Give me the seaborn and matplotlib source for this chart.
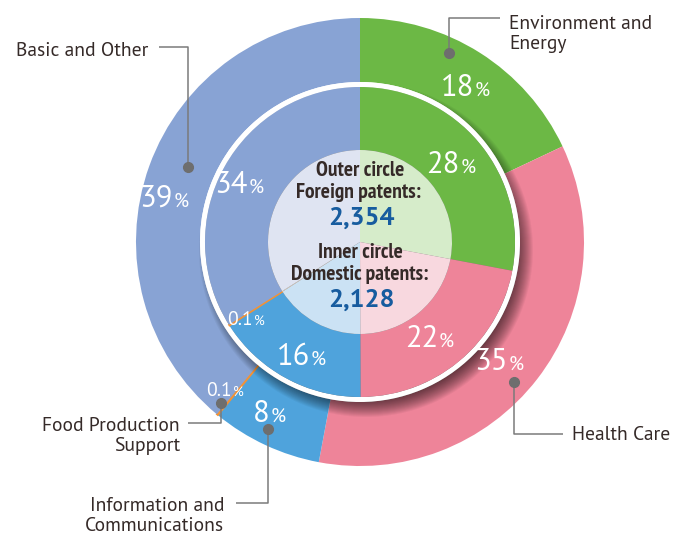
import seaborn as sns
import matplotlib.pyplot as plt
import matplotlib
import numpy as np
from matplotlib.patches import Circle, Wedge

matplotlib.use('Agg')

# Data
categories = ["Environment and Energy", "Health Care", "Information and Communications",
              "Food Production Support", "Basic and Other"]
outer_foreign = [18, 35, 8, 0.1, 39]
inner_domestic = [28, 22, 16, 0.1, 34]
outer_labels = ["18", "35", "8", "0.1", "39"]
inner_labels = ["28", "22", "16", "0.1", "34"]
foreign_total = "2,354"
domestic_total = "2,128"

colors = ["#6cb845", "#ee8499", "#4fa3dc", "#f39234", "#88a3d4"]
light_colors = ["#d6ecca", "#f8d8df", "#cbe2f4", "#f6d9bd", "#dfe4f2"]

sns.set_theme(style="white")
humanist = ['PT Sans', 'Open Sans', 'DejaVu Sans']
narrow = ['PT Sans Narrow', 'Fira Sans Condensed', 'Roboto Condensed', 'Open Sans Condensed',
          'Asap Condensed', 'Barlow Semi Condensed', 'DejaVu Sans']
plt.rcParams['font.family'] = humanist

W, H = 684, 538
fig = plt.figure(figsize=(W / 100, H / 100), dpi=100)
ax = fig.add_axes([0, 0, 1, 1])


def Y(y):
    # image y (top-down) -> data y
    return H - y


cx, cy = 360, Y(242)
R_out, R_white, R_in, R_core = 224, 160, 155, 92

# Outer ring (foreign)
ax.pie(outer_foreign, colors=colors, radius=R_out, center=(cx, cy), startangle=90,
       counterclock=False, wedgeprops=dict(width=R_out - R_white, edgecolor='none', zorder=1),
       frame=True)

# Soft shadow under the inner ring
for i in range(18):
    ax.add_patch(Circle((cx + 6, cy - 8), 150 + i, color='black', alpha=0.045, lw=0, zorder=2))

# White separator
ax.add_patch(Wedge((cx, cy), R_white, 0, 360, width=R_white - R_in, color='white', lw=0, zorder=3))

# Inner ring (domestic)
ax.pie(inner_domestic, colors=colors, radius=R_in, center=(cx, cy), startangle=90,
       counterclock=False, wedgeprops=dict(width=R_in - R_core, edgecolor='none', zorder=3),
       frame=True)

# Pale core
ax.pie(inner_domestic, colors=light_colors, radius=R_core, center=(cx, cy), startangle=90,
       counterclock=False, wedgeprops=dict(edgecolor='none', zorder=3), frame=True)

# orange sliver made visible
for p in ax.patches:
    if p.get_facecolor()[:3] == matplotlib.colors.to_rgb(colors[3]):
        p.set_edgecolor(colors[3])
        p.set_linewidth(1.2)

ax.set_xlim(0, W)
ax.set_ylim(0, H)
ax.set_aspect('equal')
ax.axis('off')


def pct(x, y, num, size=22, psize=14):
    ax.text(x + 8, Y(y) - 10, num, color='white', fontsize=size, ha='right', va='baseline',
            zorder=5)
    ax.text(x + 9, Y(y) - 10, "%", color='white', fontsize=psize, ha='left', va='baseline',
            zorder=5)


# wedge label positions (image coords)
outer_pos = [(466, 86), (500, 360), (262, 412), (224, 386), (165, 197)]
inner_pos = [(452, 163), (430, 337), (302, 355), (245, 315), (240, 183)]
for (x, y), lab in zip(outer_pos, outer_labels):
    if lab == "0.1":
        pct(x, y, lab, 14, 10)
    else:
        pct(x, y, lab)
for (x, y), lab in zip(inner_pos, inner_labels):
    if lab == "0.1":
        pct(x, y, lab, 14, 10)
    else:
        pct(x, y, lab)

# Center text
dark = "#352a28"
blue = "#175c9f"
center_lines = [
    ((360, 170), "Outer circle", dark, 15.5, narrow),
    ((358, 192), "Foreign patents:", dark, 15.5, narrow),
    ((361, 218), foreign_total, blue, 19, humanist),
    ((360, 252), "Inner circle", dark, 15.5, narrow),
    ((360, 274), "Domestic patents:", dark, 15.5, narrow),
    ((361, 300), domestic_total, blue, 19, humanist),
]
for (x, y), s, c, fs, fam in center_lines:
    ax.text(x, Y(y), s, ha='center', va='center', fontsize=fs, fontweight='bold',
            color=c, family=fam, zorder=6)

# Leader lines: (dot, elbow, end), text anchor
lead_gray = "#7a7a7a"
leaders = [
    ([(449, 53), (449, 18), (500, 18)], (509, 34), 'left', "Environment and\nEnergy"),
    ([(514, 382), (514, 434), (563, 434)], (572, 435), 'left', "Health Care"),
    ([(268, 429), (268, 503), (236, 503)], (224, 516), 'right', "Information and\nCommunications"),
    ([(221, 403), (221, 423), (188, 423)], (180, 436), 'right', "Food Production\nSupport"),
    ([(188, 167), (188, 47), (159, 47)], (148, 51), 'right', "Basic and Other"),
]
for pts, (tx, ty), ha, txt in leaders:
    xs = [p[0] for p in pts]
    ys = [Y(p[1]) for p in pts]
    ax.plot(xs, ys, color=lead_gray, lw=1.1, zorder=7, solid_capstyle='butt')
    ax.plot(xs[0], ys[0], 'o', color="#6e6e6e", ms=7, zorder=8)
    ax.text(tx, Y(ty), txt, ha=ha, va='center', fontsize=14, color=dark,
            linespacing=1.15, multialignment=ha, zorder=8)

plt.savefig("out.png", dpi=100)
